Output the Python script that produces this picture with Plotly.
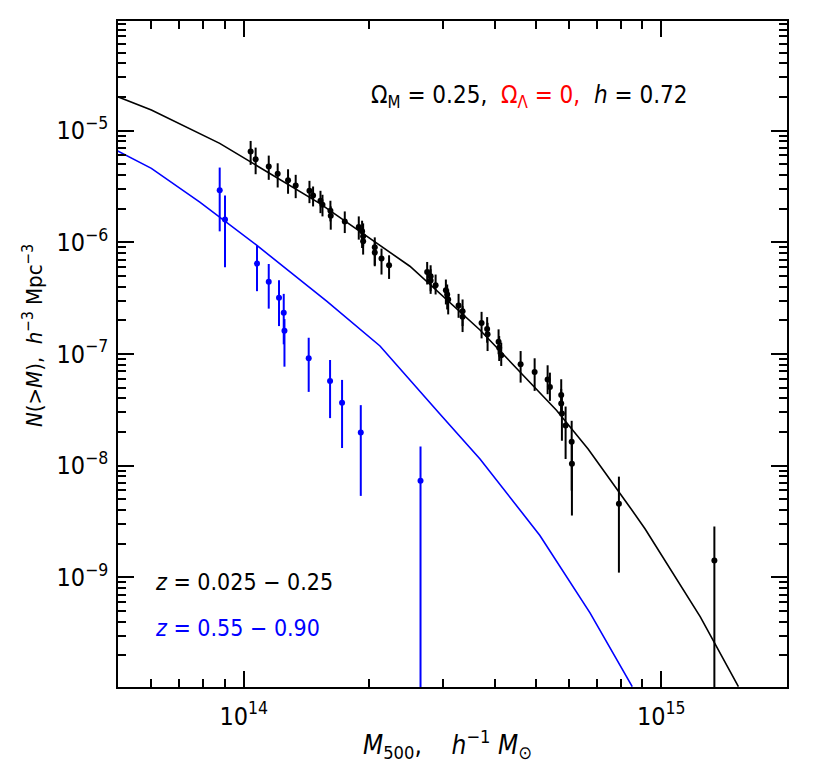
import plotly.graph_objects as go
import numpy as np

MASS_UNIT = 1e14
N_UNIT = 1e-6

# Low-z sample (z = 0.025 - 0.25), black
black_m = [1.039, 1.068, 1.148, 1.206, 1.277, 1.332, 1.437, 1.466, 1.527, 1.544,
           1.613, 1.616, 1.746, 1.886, 1.921, 1.932, 1.932, 2.060, 2.060, 2.138,
           2.229, 2.750, 2.803, 2.803, 2.881, 3.049, 3.071, 3.088, 3.270, 3.343,
           3.343, 3.712, 3.828, 3.837, 4.077, 4.091, 4.137, 4.604, 4.974, 5.343,
           5.411, 5.759, 5.759, 5.781, 5.900, 6.101, 6.109, 7.916, 13.40]
black_n = [6.494, 5.544, 4.772, 4.106, 3.599, 3.228, 2.894, 2.628, 2.357, 2.171,
           1.919, 1.731, 1.540, 1.370, 1.254, 1.131, 1.021, 0.9024, 0.8091, 0.7153,
           0.6233, 0.5429, 0.4971, 0.4550, 0.4132, 0.3728, 0.3412, 0.3079, 0.2721, 0.2420,
           0.2153, 0.1891, 0.1672, 0.1499, 0.1288, 0.1138, 0.09736, 0.08091, 0.06909, 0.05896,
           0.05073, 0.04304, 0.03599, 0.02931, 0.02290, 0.01638, 0.01042, 0.004550, 0.001418]
black_hi = [8.091, 7.050, 5.981, 5.105, 4.512, 4.022, 3.555, 3.162, 2.894, 2.666,
            2.357, 2.096, 1.891, 1.707, 1.562, 1.478, 1.254, 1.108, 1.021, 0.8785,
            0.7654, 0.6671, 0.6233, 0.5741, 0.5147, 0.4645, 0.4192, 0.3783, 0.3455, 0.3079,
            0.2683, 0.2385, 0.2140, 0.1903, 0.1662, 0.1448, 0.1262, 0.1063, 0.09155, 0.07925,
            0.06808, 0.05943, 0.04870, 0.04217, 0.03384, 0.02522, 0.01672, 0.007975, 0.002853]
black_lo = [4.941, 4.072, 3.629, 3.098, 2.721, 2.486, 2.243, 2.096, 1.826, 1.707,
            1.540, 1.298, 1.211, 1.057, 0.8895, 0.921, 0.7766, 0.6107, 0.6233, 0.5147,
            0.4702, 0.4192, 0.3455, 0.3652, 0.3412, 0.2778, 0.2506, 0.2262, 0.2109, 0.1778,
            0.1572, 0.1380, 0.1262, 0.1063, 0.09938, 0.08660, 0.07813, 0.05542, 0.04673, 0.04367,
            0.03805, 0.03098, 0.02796, 0.01672, 0.01148, 0.005980, 0.003578, 0.001102, 0.00005]

# High-z sample (z = 0.55 - 0.90), blue
blue_m = [0.876, 0.902, 1.076, 1.148, 1.215, 1.247, 1.252, 1.431, 1.610, 1.720, 1.907, 2.651]
blue_n = [2.931, 1.604, 0.6454, 0.4441, 0.3182, 0.2337, 0.1614, 0.09155, 0.05741, 0.03652, 0.01983, 0.007345]
blue_hi = [4.673, 2.628, 0.9344, 0.6401, 0.4578, 0.3455, 0.2054, 0.1398, 0.08842, 0.05861, 0.03483, 0.01487]
blue_lo = [1.254, 0.5980, 0.3652, 0.2548, 0.1778, 0.1221, 0.07700, 0.04578, 0.02667, 0.01439, 0.005363, 0.00005]

# Model curves
black_model_m = [0.499, 0.601, 0.876, 1.52, 2.50, 3.68, 5.61, 6.68, 8.41, 9.14, 12.4, 15.3]
black_model_n = [2.01e-5, 1.53e-5, 7.70e-6, 2.23e-6, 6.11e-7, 1.64e-7, 3.14e-8, 1.41e-8,
                 4.25e-9, 2.72e-9, 4.43e-10, 1.05e-10]
blue_model_m = [0.499, 0.601, 0.785, 1.07, 1.58, 2.12, 2.95, 3.68, 5.12, 6.75, 8.52]
blue_model_n = [6.59e-6, 4.60e-6, 2.29e-6, 9.53e-7, 2.97e-7, 1.18e-7, 2.90e-8, 1.15e-8,
                2.37e-9, 4.80e-10, 1.05e-10]

x_tickvals = [1e14, 1e15]
x_ticktext = ["10<sup>14</sup>", "10<sup>15</sup>"]
y_tickvals = [1e-9, 1e-8, 1e-7, 1e-6, 1e-5]
y_ticktext = ["10<sup>−9</sup>", "10<sup>−8</sup>", "10<sup>−7</sup>", "10<sup>−6</sup>", "10<sup>−5</sup>"]

FONT = "DejaVu Sans Condensed, Liberation Sans Narrow, DejaVu Sans, sans-serif"
BLUE = "#0000ff"


def arr(a, unit):
    return np.array(a) * unit


fig = go.Figure()

fig.add_trace(go.Scatter(x=arr(black_model_m, MASS_UNIT), y=black_model_n, mode="lines",
                         line=dict(color="black", width=1.6), showlegend=False))
fig.add_trace(go.Scatter(x=arr(blue_model_m, MASS_UNIT), y=blue_model_n, mode="lines",
                         line=dict(color=BLUE, width=1.6), showlegend=False))

bn = arr(black_n, N_UNIT)
fig.add_trace(go.Scatter(
    x=arr(black_m, MASS_UNIT), y=bn, mode="markers",
    marker=dict(color="black", size=6),
    error_y=dict(type="data", symmetric=False,
                 array=arr(black_hi, N_UNIT) - bn, arrayminus=bn - arr(black_lo, N_UNIT),
                 color="black", thickness=2, width=0),
    showlegend=False))

un = arr(blue_n, N_UNIT)
fig.add_trace(go.Scatter(
    x=arr(blue_m, MASS_UNIT), y=un, mode="markers",
    marker=dict(color=BLUE, size=6),
    error_y=dict(type="data", symmetric=False,
                 array=arr(blue_hi, N_UNIT) - un, arrayminus=un - arr(blue_lo, N_UNIT),
                 color=BLUE, thickness=2, width=0),
    showlegend=False))

x_minor = [k * 10 ** e for e in (13, 14, 15) for k in range(2, 10)]
y_minor = [k * 10 ** e for e in range(-11, -3) for k in range(2, 10)]

fig.update_xaxes(type="log", range=[np.log10(5e13), np.log10(2e15)],
                 tickmode="array", tickvals=x_tickvals, ticktext=x_ticktext,
                 ticks="inside", ticklen=16, tickwidth=1.5, tickcolor="black",
                 minor=dict(tickmode="array", tickvals=x_minor, ticks="inside", ticklen=8,
                            tickwidth=1.5, tickcolor="black", showgrid=False),
                 showline=True, linecolor="black", linewidth=1.5, mirror="ticks",
                 showgrid=False, zeroline=False, ticklabelstandoff=6,
                 tickfont=dict(family=FONT, size=25, color="black"))
fig.update_yaxes(type="log", range=[-9.982, -4.018],
                 tickmode="array", tickvals=y_tickvals, ticktext=y_ticktext,
                 ticks="inside", ticklen=16, tickwidth=1.5, tickcolor="black",
                 minor=dict(tickmode="array", tickvals=y_minor, ticks="inside", ticklen=8,
                            tickwidth=1.5, tickcolor="black", showgrid=False),
                 showline=True, linecolor="black", linewidth=1.5, mirror="ticks",
                 showgrid=False, zeroline=False, ticklabelstandoff=3,
                 tickfont=dict(family=FONT, size=25, color="black"))

annots = [
    dict(x=0.375, y=0.886, xanchor="left", yanchor="middle",
         text="Ω<sub>M</sub> = 0.25,  <span style='color:#ff0000'>Ω<sub>Λ</sub> = 0,</span>  <i>h</i> = 0.72",
         font=dict(family=FONT, size=24, color="black")),
    dict(x=0.0523, y=0.157, xanchor="left", yanchor="middle",
         text="<i>z</i> = 0.025 − 0.25", font=dict(family=FONT, size=23, color="black")),
    dict(x=0.0523, y=0.0883, xanchor="left", yanchor="middle",
         text="<i>z</i> = 0.55 − 0.90", font=dict(family=FONT, size=23, color=BLUE)),
    dict(x=0.493, y=-0.0868, xanchor="center", yanchor="middle",
         text="<i>M</i><sub>500</sub>,    <i>h</i><sup>−1</sup> <i>M</i><sub>⊙</sub>",
         font=dict(family=FONT, size=26, color="black")),
    dict(x=-0.127, y=0.527, xanchor="center", yanchor="middle", textangle=-90,
         text="<i>N</i>(><i>M</i>),  <i>h</i><sup>−3</sup> Mpc<sup>−3</sup>",
         font=dict(family=FONT, size=22, color="black")),
]
for a in annots:
    a.update(xref="paper", yref="paper", showarrow=False)
fig.update_layout(annotations=annots)

# the page adds an 8px body margin, so the figure is offset by 8px
fig.update_layout(width=822, height=770, autosize=False,
                  margin=dict(l=110, r=43, t=11, b=91),
                  plot_bgcolor="white", paper_bgcolor="white",
                  font=dict(family=FONT, color="black"))

fig.write_html("out.html")
